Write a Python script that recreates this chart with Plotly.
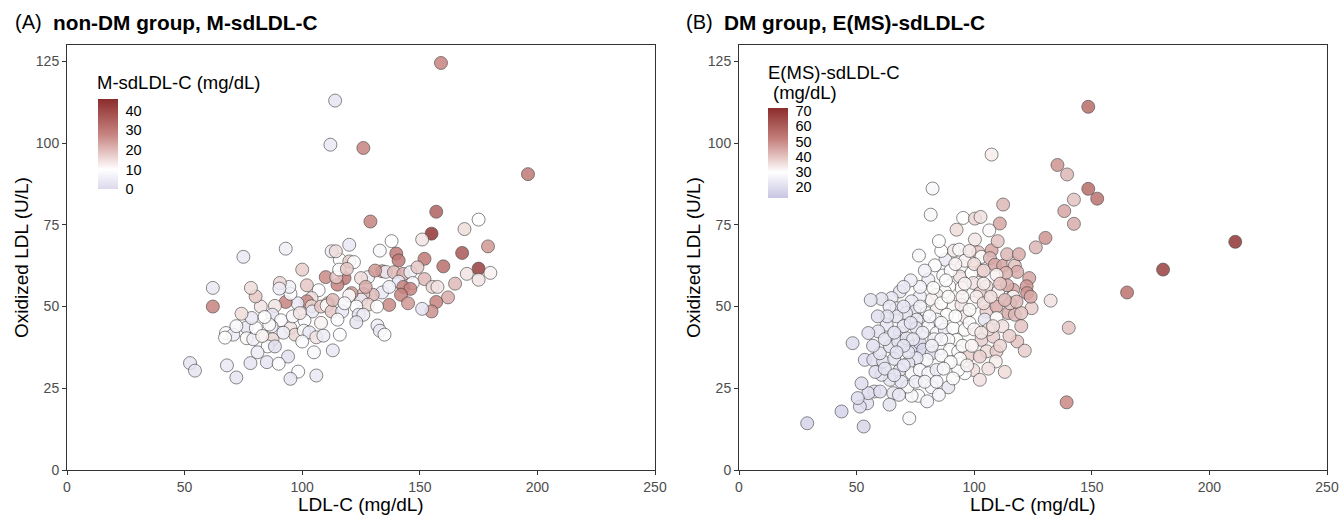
import plotly.graph_objects as go

W, H = 1341, 515

# ---------------- Panel A: non-DM group ----------------
a_ldl = [159,114,112,126,196,157,155,129,151,169,175,168,179,175,170,175,180,160,152,140,141,133,152,155.4,157.5,162,157,155,151,134,135.5,139,143,146,147,141,143,146,142,137,134,130,128,126,125,128,123,124,126,123,132,133,135,118,115,110,114.5,121,120,116,120,112.5,114.3,120,122,100,102,107,104,102,104,104.3,108,111,110.4,112.5,117,115,101,98,93,95,94.5,90.5,90.3,88.4,87.3,91,87,86,95,97,100.7,103,106,109,116,100,87.4,85.3,88.4,113,94,85,90,78,68,72,52.3,54.4,98.3,95,106,67.6,70.7,67.2,76.4,76.4,79.2,80.3,78.5,74.2,82.4,80.2,78.2,84,62,62,75,93,115.7,125,131.8,119,
         96,99,92,108,113,118,127,137,145,149,165,83,72,81,105,131,138]
a_oxldl = [124.5,113,99.5,98.5,90.5,79,72.3,76,70.5,73.7,76.6,66.4,68.4,61.6,60,58.2,60.3,62.3,64.6,66.2,64.1,67.1,58.4,56,56,52.8,51.4,48.5,49.3,60.8,60.6,60.5,60,60.5,57.2,57.6,56,55.4,53.6,50.5,54.3,53.6,59,53.8,52.1,50.6,50,47.5,47.5,45.2,44.2,42.6,41.4,58.7,56.7,59,59,54.1,53.4,64.3,68.9,66.9,66.9,63.8,63.6,61.3,56.5,55,52.6,51.6,50.1,48.5,50,51,50.3,48.5,48.5,46,45.7,51,51.4,53.9,56,57.2,55.5,50.2,47.5,45.8,43.9,44.5,43.4,41.4,42.6,42.1,40.6,41.1,41.4,39.3,40,37.8,37.8,36.6,34.7,33,32.5,32.7,32,28.3,32.7,30.4,30.1,27.9,28.9,41.9,41.4,40.5,43.6,40.3,40,43.4,46.5,47.8,50,53.1,55.7,46.8,55.7,50,65.2,67.7,61.3,58.7,50,61.5,
            47,48,42,45,52,51,56,56,51,62,57,41,44,36,36,61,70]
a_sd = [28,3,4,28,30,35,44,28,14,15,10,37,25,42,14,14,12,32,30,30,30,8,20,16,14,22,28,26,3,25,5,20,22,6,8,4,28,28,28,27,4,20,6,18,4,16,10,3,5,3,5,4,9,30,28,27,18,25,10,10,4,5,15,17,10,17,18,9,15,27,16,4,18,22,10,18,4,9,9,4,28,9,6,16,5,14,3,9,5,9,14,16,9,4,14,5,9,9,16,9,2,4,2,3,9,3,4,3,3,3,9,3,4,9,5,10,3,11,6,10,4,15,14,18,15,10,4,28,4,6,10,15,10,18,
        8,14,5,12,20,8,22,6,25,18,20,12,8,5,8,25,10]

# ---------------- Panel B: DM group ----------------
b_ldl = [107.4,135.4,139.5,148.5,148.5,152.3,142.4,138.3,142.4,130.3,211,180.3,165,132.5,140.2,139.3,126.2,82.3,81.5,112.3,95.3,100.3,102.7,110.9,106.4,92.5,100.3,76.5,87.8,91.4,93.6,101.7,103.1,107.4,106.7,108.8,112.3,116.6,117.3,118.3,113.5,102.8,109.5,83.3,94.6,93.9,98.9,86.8,80.5,123.4,122.3,122.5,116.6,116.6,110.2,105.2,99.6,102.4,94.6,89.4,87.5,84,81.9,76.9,68.4,64.9,60.6,73.4,67,74.8,79.8,84,91.1,94.6,99.6,105.2,109.5,114.5,117.3,115.2,124.4,104.5,109.5,96,88.3,84,78.3,75.5,71,67,62.8,68.4,59.2,55,48.3,75.5,80.5,84,87.5,91.1,96,92.5,89,85.4,89.7,93.2,97.5,103.1,108.1,105.3,109.5,109.2,102.4,99.6,102.4,96,93.2,118.3,121.5,89,81.9,76.2,73.4,71.7,65.6,64.2,60.6,57.5,54.5,55,51.4,52.1,43.6,72.4,53.5,57.1,61.3,59.9,64.2,67.7,71.3,74.1,76.9,78.3,81.9,79.8,75.5,72,68.4,73.4,76.9,80.5,84,82.6,29,53,50.5,56,64,70,86,98,112,120,104,90,79,86,96,100,114,118,72,66,62,58,69,83,95,100,106,
         70,73,77,81,86,89,92,95,98,101,104,107,111,113,108,103,99,94,90,86,82,78,74,70,66,63,59,57,62,66,70,75,79,84,87,91,97,86,77,73,70,88,92,96,104,98,85,110,114,119,124,120,115,111,106,113,67,60,64,68,80,85]
b_oxldl = [96.5,93.3,90.4,111.1,86,83,82.7,79.2,75.3,71,69.8,61.3,54.3,51.8,43.5,20.7,68.1,86.1,78.1,81.2,77.1,76.9,77.4,75.4,73.3,73.5,70.5,65.6,64.3,67.1,67.4,66.6,65.2,67.2,64.8,62.8,62.5,63.3,62.5,60.6,60.3,61,59.7,62.6,62.3,59.2,60.3,59.5,58.2,58.7,56.2,54.1,55.1,53,54.6,56.2,57.2,54.1,55.7,56.2,54.6,53.6,52.1,53.1,54.6,52.6,52.3,51.6,49.5,48.5,48,49,50,50.5,51.1,48.5,50,48,47.5,51,49.5,46,46.5,47,47.5,46,45.4,46,48,47,44.4,41.9,42.4,41.9,38.8,43.4,43.9,41.9,42.9,43.4,42.9,39.8,39.8,37.3,36.8,36.2,34.9,39.8,40.8,36.3,36.3,33.2,34.7,30.6,27.6,29.6,30.6,39.3,36.5,25.3,25.3,22.7,22.7,25.5,23.5,27.6,29.1,24,20.4,23.5,19.4,26.5,17.9,15.8,33.7,33.7,33.2,35.7,37.8,39.3,40.3,37.8,38.8,36.8,35.7,33.7,34.2,32.7,30.6,29.6,30.6,29.6,30.6,55.7,14.3,13.3,22,52,50,44,35,45,44,48,57,61,61,67,64,63,56.5,51.5,36,34,40,30,27,40,38,43,43,
           50,45,50,47,51,53,47,53,49,53,51,53,57,52,44,42,38,34,33,40,38,42,40,38,42,47,47,38,31,29,32,27,27,27,31,28,32,45,56,58,56,58,63,57,61,67,70,70,66,66,53,44,41,38,31,30,36,24,20,23,21,23]
b_sd = [33,48,42,56,56,55,40,45,44,48,70,67,55,35,40,50,42,28,28,42,30,37,35,45,31,36,34,28,24,34,31,40,30,45,42,45,45,32,40,44,43,42,32,29,31,35,30,29,25,45,48,48,45,31,32,36,35,38,31,30,30,33,32,25,23,23,22,24,24,22,29,33,31,34,30,38,44,44,42,38,38,23,31,34,30,29,25,24,23,22,23,23,22,21,20,23,28,29,24,30,31,30,29,29,30,30,38,38,38,36,38,33,38,36,35,30,30,40,38,23,28,29,28,29,23,22,22,21,21,21,20,20,17,28,21,21,22,22,22,22,22,21,18,18,20,28,22,22,22,28,28,28,24,29,17,18,20,22,24,23,28,30,35,40,33,30,26,30,32,36,44,42,22,22,22,21,22,26,31,32,36,
        23,22,26,28,30,31,30,32,31,33,36,36,40,42,35,34,32,30,29,28,26,25,23,22,22,22,21,21,22,22,23,25,27,27,28,29,32,28,27,25,24,30,32,32,37,34,30,40,42,44,45,40,38,37,35,36,22,21,22,23,27,27]

# tick labels
x_ticks = [0, 50, 100, 150, 200, 250]
y_ticks = [0, 25, 50, 75, 100, 125]
cb_a_ticks = [0, 10, 20, 30, 40]
cb_b_ticks = [20, 30, 40, 50, 60, 70]

LOW_A, LOW_B, HIGH, MIDRED = "#dcd8ec", "#c8c5e3", "#8b2c2c", "#c6837f"

def cscale(lo_col, cmin, mid, cmax):
    fm = (mid - cmin) / (cmax - cmin)
    fr = fm + (1 - fm) * 0.5
    return [[0, lo_col], [fm, "#ffffff"], [fr, MIDRED], [1, HIGH]]

fig = go.Figure()
marker_line = dict(color="#3a3a3a", width=0.7)
fig.add_trace(go.Scatter(x=a_ldl, y=a_oxldl, mode="markers", xaxis="x", yaxis="y",
                         marker=dict(size=13, color=a_sd, coloraxis="coloraxis", opacity=0.85, line=marker_line),
                         showlegend=False))
fig.add_trace(go.Scatter(x=b_ldl, y=b_oxldl, mode="markers", xaxis="x2", yaxis="y2",
                         marker=dict(size=13, color=b_sd, coloraxis="coloraxis2", opacity=0.85, line=marker_line),
                         showlegend=False))

def px_x(p): return p / W
def px_y(p): return 1 - p / H

axis_common = dict(showgrid=False, zeroline=False, showline=True, mirror=True, linecolor="#333333",
                   linewidth=1, ticks="outside", ticklen=4, tickcolor="#333333",
                   tickfont=dict(size=14, color="#4d4d4d"), automargin=False)

cb_common = dict(lenmode="pixels", len=90, thicknessmode="pixels", thickness=20,
                 xpad=0, ypad=0, outlinewidth=0, ticks="outside", ticklen=5, tickcolor="white",
                 tickfont=dict(size=14.5, color="black"))

fig.update_layout(
    width=W, height=H, margin=dict(l=0, r=0, t=0, b=0),
    paper_bgcolor="white", plot_bgcolor="white",
    font=dict(family="Liberation Sans, Arial, sans-serif", color="black"),
    xaxis=dict(domain=[px_x(67), px_x(655)], range=[0, 250], tickvals=x_ticks, anchor="y", **axis_common),
    yaxis=dict(domain=[px_y(470), px_y(45)], range=[0, 130], tickvals=y_ticks, anchor="x", **axis_common),
    xaxis2=dict(domain=[px_x(739), px_x(1327)], range=[0, 250], tickvals=x_ticks, anchor="y2", **axis_common),
    yaxis2=dict(domain=[px_y(470), px_y(45)], range=[0, 130], tickvals=y_ticks, anchor="x2", **axis_common),
    coloraxis=dict(cmin=0, cmax=46, colorscale=cscale(LOW_A, 0, 10, 46),
                   colorbar=dict(x=px_x(98), xanchor="left", y=px_y(99), yanchor="top",
                                 tickvals=cb_a_ticks, **cb_common)),
    coloraxis2=dict(cmin=13, cmax=72, colorscale=cscale(LOW_B, 13, 30, 72),
                    colorbar=dict(x=px_x(768), xanchor="left", y=px_y(108), yanchor="top",
                                  tickvals=cb_b_ticks, **cb_common)),
)

ann = []
def add_text(text, x, y, size, xanchor="left", yanchor="middle", angle=0, color="black"):
    ann.append(dict(text=text, x=px_x(x), y=px_y(y), xref="paper", yref="paper", showarrow=False,
                    xanchor=xanchor, yanchor=yanchor, textangle=angle, align="left",
                    font=dict(size=size, color=color)))

add_text("(A)", 13, 22, 20)
add_text("<b>non-DM group, M-sdLDL-C</b>", 51, 22, 20.8)
add_text("(B)", 684, 22, 20)
add_text("<b>DM group, E(MS)-sdLDL-C</b>", 722, 22, 20.8)
add_text("LDL-C (mg/dL)", 361, 504, 19, xanchor="center")
add_text("LDL-C (mg/dL)", 1033, 504, 19, xanchor="center")
add_text("Oxidized LDL (U/L)", 21, 258, 19, xanchor="center", angle=-90)
add_text("Oxidized LDL (U/L)", 693, 258, 19, xanchor="center", angle=-90)
add_text("M-sdLDL-C (mg/dL)", 95, 82, 18.5)
add_text("E(MS)-sdLDL-C", 766, 72, 18.5)
add_text("(mg/dL)", 771, 93, 18.5)
fig.update_layout(annotations=ann)

fig.write_html("out.html", config={"displayModeBar": False},
               post_script="document.body.style.margin='0';document.body.style.overflow='hidden';")
